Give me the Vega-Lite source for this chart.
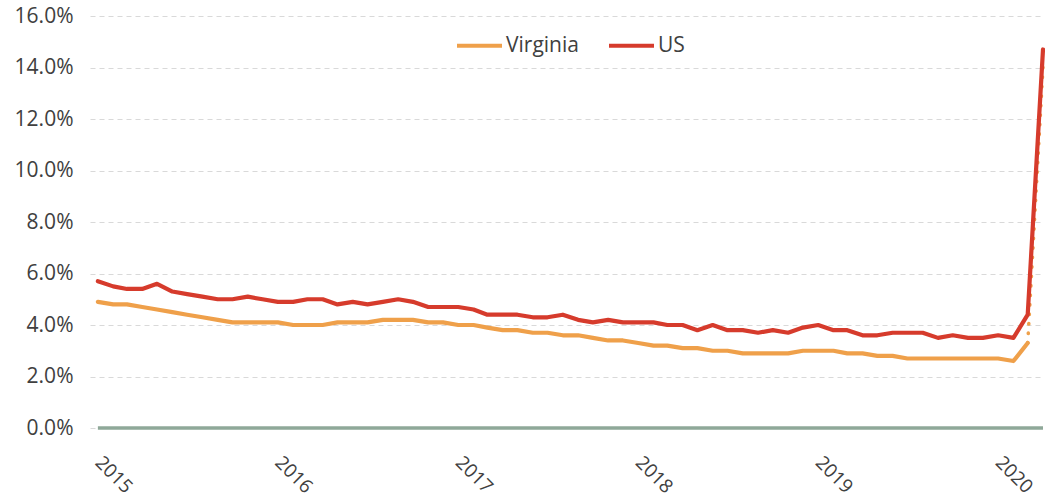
{
  "$schema": "https://vega.github.io/schema/vega-lite/v6.json",
  "width": 953,
  "height": 412,
  "autosize": {"type": "none"},
  "padding": {"left": 90, "top": 16, "right": 2, "bottom": 73},
  "background": "white",
  "config": {"view": {"stroke": null}, "font": "Open Sans"},
  "datasets": {
    "unemployment": [
      {"date": "2015-01-01", "region": "US", "rate": 5.7},
      {"date": "2015-02-01", "region": "US", "rate": 5.5},
      {"date": "2015-03-01", "region": "US", "rate": 5.4},
      {"date": "2015-04-01", "region": "US", "rate": 5.4},
      {"date": "2015-05-01", "region": "US", "rate": 5.6},
      {"date": "2015-06-01", "region": "US", "rate": 5.3},
      {"date": "2015-07-01", "region": "US", "rate": 5.2},
      {"date": "2015-08-01", "region": "US", "rate": 5.1},
      {"date": "2015-09-01", "region": "US", "rate": 5.0},
      {"date": "2015-10-01", "region": "US", "rate": 5.0},
      {"date": "2015-11-01", "region": "US", "rate": 5.1},
      {"date": "2015-12-01", "region": "US", "rate": 5.0},
      {"date": "2016-01-01", "region": "US", "rate": 4.9},
      {"date": "2016-02-01", "region": "US", "rate": 4.9},
      {"date": "2016-03-01", "region": "US", "rate": 5.0},
      {"date": "2016-04-01", "region": "US", "rate": 5.0},
      {"date": "2016-05-01", "region": "US", "rate": 4.8},
      {"date": "2016-06-01", "region": "US", "rate": 4.9},
      {"date": "2016-07-01", "region": "US", "rate": 4.8},
      {"date": "2016-08-01", "region": "US", "rate": 4.9},
      {"date": "2016-09-01", "region": "US", "rate": 5.0},
      {"date": "2016-10-01", "region": "US", "rate": 4.9},
      {"date": "2016-11-01", "region": "US", "rate": 4.7},
      {"date": "2016-12-01", "region": "US", "rate": 4.7},
      {"date": "2017-01-01", "region": "US", "rate": 4.7},
      {"date": "2017-02-01", "region": "US", "rate": 4.6},
      {"date": "2017-03-01", "region": "US", "rate": 4.4},
      {"date": "2017-04-01", "region": "US", "rate": 4.4},
      {"date": "2017-05-01", "region": "US", "rate": 4.4},
      {"date": "2017-06-01", "region": "US", "rate": 4.3},
      {"date": "2017-07-01", "region": "US", "rate": 4.3},
      {"date": "2017-08-01", "region": "US", "rate": 4.4},
      {"date": "2017-09-01", "region": "US", "rate": 4.2},
      {"date": "2017-10-01", "region": "US", "rate": 4.1},
      {"date": "2017-11-01", "region": "US", "rate": 4.2},
      {"date": "2017-12-01", "region": "US", "rate": 4.1},
      {"date": "2018-01-01", "region": "US", "rate": 4.1},
      {"date": "2018-02-01", "region": "US", "rate": 4.1},
      {"date": "2018-03-01", "region": "US", "rate": 4.0},
      {"date": "2018-04-01", "region": "US", "rate": 4.0},
      {"date": "2018-05-01", "region": "US", "rate": 3.8},
      {"date": "2018-06-01", "region": "US", "rate": 4.0},
      {"date": "2018-07-01", "region": "US", "rate": 3.8},
      {"date": "2018-08-01", "region": "US", "rate": 3.8},
      {"date": "2018-09-01", "region": "US", "rate": 3.7},
      {"date": "2018-10-01", "region": "US", "rate": 3.8},
      {"date": "2018-11-01", "region": "US", "rate": 3.7},
      {"date": "2018-12-01", "region": "US", "rate": 3.9},
      {"date": "2019-01-01", "region": "US", "rate": 4.0},
      {"date": "2019-02-01", "region": "US", "rate": 3.8},
      {"date": "2019-03-01", "region": "US", "rate": 3.8},
      {"date": "2019-04-01", "region": "US", "rate": 3.6},
      {"date": "2019-05-01", "region": "US", "rate": 3.6},
      {"date": "2019-06-01", "region": "US", "rate": 3.7},
      {"date": "2019-07-01", "region": "US", "rate": 3.7},
      {"date": "2019-08-01", "region": "US", "rate": 3.7},
      {"date": "2019-09-01", "region": "US", "rate": 3.5},
      {"date": "2019-10-01", "region": "US", "rate": 3.6},
      {"date": "2019-11-01", "region": "US", "rate": 3.5},
      {"date": "2019-12-01", "region": "US", "rate": 3.5},
      {"date": "2020-01-01", "region": "US", "rate": 3.6},
      {"date": "2020-02-01", "region": "US", "rate": 3.5},
      {"date": "2020-03-01", "region": "US", "rate": 4.4},
      {"date": "2020-04-01", "region": "US", "rate": 14.7},
      {"date": "2015-01-01", "region": "Virginia", "rate": 4.9},
      {"date": "2015-02-01", "region": "Virginia", "rate": 4.8},
      {"date": "2015-03-01", "region": "Virginia", "rate": 4.8},
      {"date": "2015-04-01", "region": "Virginia", "rate": 4.7},
      {"date": "2015-05-01", "region": "Virginia", "rate": 4.6},
      {"date": "2015-06-01", "region": "Virginia", "rate": 4.5},
      {"date": "2015-07-01", "region": "Virginia", "rate": 4.4},
      {"date": "2015-08-01", "region": "Virginia", "rate": 4.3},
      {"date": "2015-09-01", "region": "Virginia", "rate": 4.2},
      {"date": "2015-10-01", "region": "Virginia", "rate": 4.1},
      {"date": "2015-11-01", "region": "Virginia", "rate": 4.1},
      {"date": "2015-12-01", "region": "Virginia", "rate": 4.1},
      {"date": "2016-01-01", "region": "Virginia", "rate": 4.1},
      {"date": "2016-02-01", "region": "Virginia", "rate": 4.0},
      {"date": "2016-03-01", "region": "Virginia", "rate": 4.0},
      {"date": "2016-04-01", "region": "Virginia", "rate": 4.0},
      {"date": "2016-05-01", "region": "Virginia", "rate": 4.1},
      {"date": "2016-06-01", "region": "Virginia", "rate": 4.1},
      {"date": "2016-07-01", "region": "Virginia", "rate": 4.1},
      {"date": "2016-08-01", "region": "Virginia", "rate": 4.2},
      {"date": "2016-09-01", "region": "Virginia", "rate": 4.2},
      {"date": "2016-10-01", "region": "Virginia", "rate": 4.2},
      {"date": "2016-11-01", "region": "Virginia", "rate": 4.1},
      {"date": "2016-12-01", "region": "Virginia", "rate": 4.1},
      {"date": "2017-01-01", "region": "Virginia", "rate": 4.0},
      {"date": "2017-02-01", "region": "Virginia", "rate": 4.0},
      {"date": "2017-03-01", "region": "Virginia", "rate": 3.9},
      {"date": "2017-04-01", "region": "Virginia", "rate": 3.8},
      {"date": "2017-05-01", "region": "Virginia", "rate": 3.8},
      {"date": "2017-06-01", "region": "Virginia", "rate": 3.7},
      {"date": "2017-07-01", "region": "Virginia", "rate": 3.7},
      {"date": "2017-08-01", "region": "Virginia", "rate": 3.6},
      {"date": "2017-09-01", "region": "Virginia", "rate": 3.6},
      {"date": "2017-10-01", "region": "Virginia", "rate": 3.5},
      {"date": "2017-11-01", "region": "Virginia", "rate": 3.4},
      {"date": "2017-12-01", "region": "Virginia", "rate": 3.4},
      {"date": "2018-01-01", "region": "Virginia", "rate": 3.3},
      {"date": "2018-02-01", "region": "Virginia", "rate": 3.2},
      {"date": "2018-03-01", "region": "Virginia", "rate": 3.2},
      {"date": "2018-04-01", "region": "Virginia", "rate": 3.1},
      {"date": "2018-05-01", "region": "Virginia", "rate": 3.1},
      {"date": "2018-06-01", "region": "Virginia", "rate": 3.0},
      {"date": "2018-07-01", "region": "Virginia", "rate": 3.0},
      {"date": "2018-08-01", "region": "Virginia", "rate": 2.9},
      {"date": "2018-09-01", "region": "Virginia", "rate": 2.9},
      {"date": "2018-10-01", "region": "Virginia", "rate": 2.9},
      {"date": "2018-11-01", "region": "Virginia", "rate": 2.9},
      {"date": "2018-12-01", "region": "Virginia", "rate": 3.0},
      {"date": "2019-01-01", "region": "Virginia", "rate": 3.0},
      {"date": "2019-02-01", "region": "Virginia", "rate": 3.0},
      {"date": "2019-03-01", "region": "Virginia", "rate": 2.9},
      {"date": "2019-04-01", "region": "Virginia", "rate": 2.9},
      {"date": "2019-05-01", "region": "Virginia", "rate": 2.8},
      {"date": "2019-06-01", "region": "Virginia", "rate": 2.8},
      {"date": "2019-07-01", "region": "Virginia", "rate": 2.7},
      {"date": "2019-08-01", "region": "Virginia", "rate": 2.7},
      {"date": "2019-09-01", "region": "Virginia", "rate": 2.7},
      {"date": "2019-10-01", "region": "Virginia", "rate": 2.7},
      {"date": "2019-11-01", "region": "Virginia", "rate": 2.7},
      {"date": "2019-12-01", "region": "Virginia", "rate": 2.7},
      {"date": "2020-01-01", "region": "Virginia", "rate": 2.7},
      {"date": "2020-02-01", "region": "Virginia", "rate": 2.6},
      {"date": "2020-03-01", "region": "Virginia", "rate": 3.3},
      {"date": "2020-04-01", "region": "Virginia", "rate": 14.0}
    ]
  },
  "layer": [
    {
      "data": {"values": [{}]},
      "mark": {"type": "rule", "color": "#8FA899", "strokeWidth": 3.5},
      "encoding": {
        "x": {"datum": {"year": 2015, "month": 1, "date": 1, "utc": true}, "type": "temporal"},
        "x2": {"datum": {"year": 2020, "month": 4, "date": 1, "utc": true}},
        "y": {"datum": 0, "type": "quantitative"}
      }
    },
    {
      "data": {"name": "unemployment"},
      "transform": [{"filter": "datum.region === 'Virginia' && time(toDate(datum.date)) <= utc(2020, 2, 1)"}],
      "mark": {"type": "line", "strokeWidth": 4.2, "strokeJoin": "round", "strokeCap": "round"},
      "encoding": {
        "x": {
          "field": "date", "type": "temporal",
          "scale": {"domain": [{"year": 2014, "month": 12, "date": 16, "utc": true}, {"year": 2020, "month": 4, "date": 1, "utc": true}]},
          "axis": {
            "title": null,
            "values": [
              {"year": 2015, "month": 1, "date": 1, "utc": true},
              {"year": 2016, "month": 1, "date": 1, "utc": true},
              {"year": 2017, "month": 1, "date": 1, "utc": true},
              {"year": 2018, "month": 1, "date": 1, "utc": true},
              {"year": 2019, "month": 1, "date": 1, "utc": true},
              {"year": 2020, "month": 1, "date": 1, "utc": true}
            ],
            "format": "%Y",
            "formatType": "utc",
            "labelAngle": 45,
            "labelAlign": "left",
            "labelBaseline": "middle",
            "labelPadding": 31,
            "labelFontSize": 19,
            "labelColor": "#404040",
            "labelFont": "Open Sans",
            "ticks": false,
            "domain": false,
            "grid": false
          }
        },
        "y": {
          "field": "rate", "type": "quantitative",
          "scale": {"domain": [0, 16]},
          "axis": {
            "title": null,
            "values": [0, 2, 4, 6, 8, 10, 12, 14, 16],
            "labelExpr": "format(datum.value, '.1f') + '%'",
            "labelFontSize": 21,
            "labelColor": "#404040",
            "labelFont": "Open Sans",
            "labelPadding": 17,
            "ticks": false,
            "domain": false,
            "grid": true,
            "gridColor": "#D9D9D9",
            "gridDash": [5, 4],
            "gridWidth": 1
          }
        },
        "color": {
          "field": "region", "type": "nominal",
          "scale": {"domain": ["Virginia", "US"], "range": ["#EFA04A", "#D63B2C"]},
          "legend": {
            "orient": "none",
            "legendX": 365,
            "legendY": 5,
            "direction": "horizontal",
            "title": null,
            "symbolType": "stroke",
            "symbolSize": 2025,
            "symbolStrokeWidth": 4,
            "labelFontSize": 21,
            "labelColor": "#404040",
            "labelFont": "Open Sans",
            "labelOffset": 2,
            "columnPadding": 22
          }
        }
      }
    },
    {
      "data": {"name": "unemployment"},
      "transform": [{"filter": "datum.region === 'Virginia' && time(toDate(datum.date)) >= utc(2020, 2, 1)"}],
      "mark": {"type": "line", "strokeWidth": 3.5, "strokeCap": "round", "strokeDash": [0.5, 9], "color": "#EFA04A"},
      "encoding": {
        "x": {"field": "date", "type": "temporal"},
        "y": {"field": "rate", "type": "quantitative"}
      }
    },
    {
      "data": {"name": "unemployment"},
      "transform": [{"filter": "datum.region === 'US'"}],
      "mark": {"type": "line", "strokeWidth": 4.2, "strokeJoin": "round", "strokeCap": "round"},
      "encoding": {
        "x": {"field": "date", "type": "temporal"},
        "y": {"field": "rate", "type": "quantitative"},
        "color": {"field": "region", "type": "nominal"}
      }
    }
  ]
}
